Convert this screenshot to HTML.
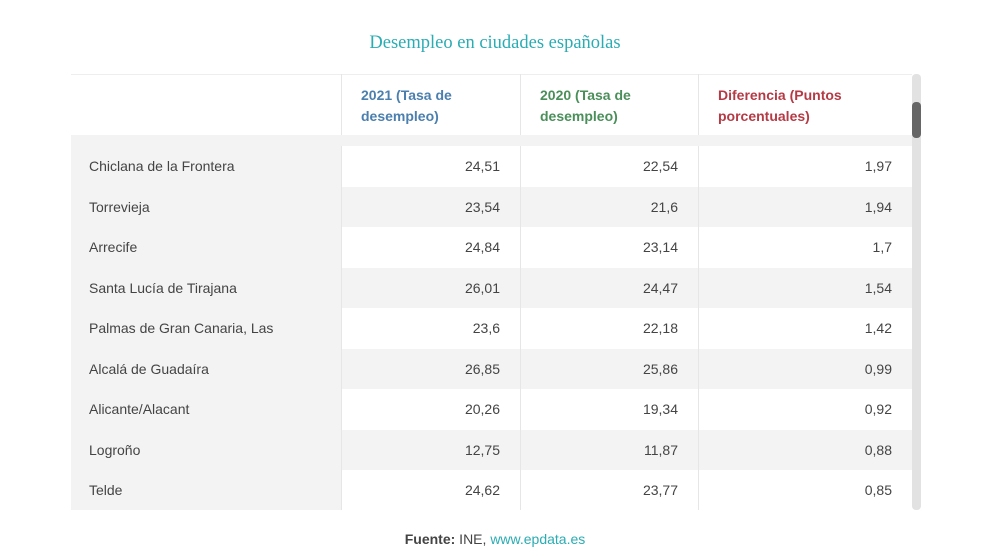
<!DOCTYPE html>
<html><head><meta charset="utf-8">
<style>
body{margin:0;width:990px;height:556px;background:#fff;font-family:"Liberation Sans",sans-serif;position:relative;overflow:hidden}
#title{position:absolute;top:33px;left:0;width:990px;text-align:center;font-family:"Liberation Serif",serif;font-size:18.5px;color:#2aacb3}
#tbl{position:absolute;left:71px;top:74px;width:841px;height:436px;overflow:hidden;background:#f3f3f3}
.row{position:absolute;left:0;width:841px;height:40.5px;font-size:14px;color:#444}
.c{position:absolute;top:0;height:100%;box-sizing:border-box;line-height:40px}
.c0{left:0;width:270px;padding-left:18px}
.c1{left:270px;width:179px;text-align:right;padding-right:20px;border-left:1px solid #e6e6e6}
.c2{left:449px;width:178px;text-align:right;padding-right:20px;border-left:1px solid #e6e6e6}
.c3{left:627px;width:214px;text-align:right;padding-right:20px;border-left:1px solid #e6e6e6}
.w .c1,.w .c2,.w .c3{background:#fff}
#head{position:absolute;left:0;top:0;width:841px;height:61px;background:#fff;font-weight:bold;font-size:14px;box-shadow:inset 0 1px 0 #eee}
#head .c{line-height:21px;padding:11px 0 0 19px;text-align:left}
#sb{position:absolute;left:912px;top:74px;width:9px;height:436px;background:#e2e2e2;border-radius:4px}
#thumb{position:absolute;left:912px;top:102px;width:9px;height:36px;background:#666;border-radius:4px}
#foot{position:absolute;top:531px;left:0;width:990px;text-align:center;font-size:14px;color:#444}
#foot a{color:#2aacb3;text-decoration:none}
</style></head><body>
<div id="title">Desempleo en ciudades españolas</div>
<div id="tbl">
<div id="head">
<div class="c c0" style="padding:0"></div>
<div class="c c1" style="color:#4a7fae">2021 (Tasa de<br>desempleo)</div>
<div class="c c2" style="color:#4a8f5a">2020 (Tasa de<br>desempleo)</div>
<div class="c c3" style="color:#b53a45">Diferencia (Puntos<br>porcentuales)</div>
</div>
<div id="rows"></div>
</div>
<div id="sb"></div>
<div id="thumb"></div>
<div id="foot"><b>Fuente:</b> INE, <a>www.epdata.es</a></div>
<script>
const cities=["Chiclana de la Frontera","Torrevieja","Arrecife","Santa Lucía de Tirajana","Palmas de Gran Canaria, Las","Alcalá de Guadaíra","Alicante/Alacant","Logroño","Telde"];
const v2021=["24,51","23,54","24,84","26,01","23,6","26,85","20,26","12,75","24,62"];
const v2020=["22,54","21,6","23,14","24,47","22,18","25,86","19,34","11,87","23,77"];
const diff=["1,97","1,94","1,7","1,54","1,42","0,99","0,92","0,88","0,85"];
const host=document.getElementById('rows');
cities.forEach((c,i)=>{
  const r=document.createElement('div');
  r.className='row'+(i%2===0?' w':'');
  r.style.top=(72+i*40.5)+'px';
  
  
  [c,v2021[i],v2020[i],diff[i]].forEach((t,j)=>{
    const d=document.createElement('div');
    d.className='c c'+j;
    d.textContent=t;
    
    
    r.appendChild(d);
  });
  host.appendChild(r);
});
</script>
</body></html>
